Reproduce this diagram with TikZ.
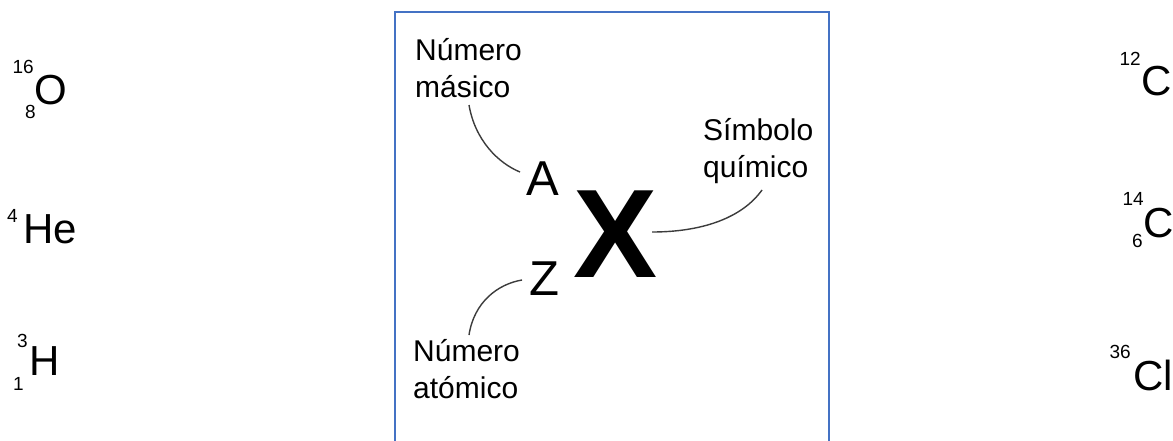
\documentclass[tikz,border=0pt]{standalone}
\usepackage{fontspec}
\setmainfont{Liberation Sans}
\definecolor{boxblue}{RGB}{68,114,196}
\definecolor{leader}{RGB}{60,60,60}
\begin{document}
\begin{tikzpicture}[x=1pt,y=-1pt,
  lbl/.style={inner sep=0pt,anchor=base west,align=left,font=\fontsize{30}{37}\selectfont},
  elem/.style={inner sep=0pt,anchor=base west,font=\fontsize{42}{42}\selectfont},
  nucl/.style={inner sep=0pt,anchor=base east,font=\fontsize{19}{19}\selectfont},
  az/.style={inner sep=0pt,anchor=base west,font=\fontsize{49}{49}\selectfont},
  lead/.style={draw=leader,line width=1.4pt}]
\useasboundingbox[fill=white] (0,0) rectangle (1173,440);

% frame
\draw[boxblue,line width=2pt] (394.7,442) -- (394.7,12) -- (829,12) -- (829,442);

% left isotopes
\node[elem] (O) at (34,104) {O};
\node[nucl] (O16) at (34,73) {16};
\node[nucl] (O8) at (36,118) {8};

\node[elem] (He) at (23,243) {He};
\node[nucl] (He4) at (18,222) {4};

\node[elem] (H) at (29,375) {H};
\node[nucl] (H3) at (28,347) {3};
\node[nucl] (H1) at (24,390) {1};

% right isotopes
\node[elem] (C12) at (1141,95) {C};
\node[nucl] (C12a) at (1141,65) {12};

\node[elem] (C14) at (1143,237) {C};
\node[nucl] (C14a) at (1144,205) {14};
\node[nucl] (C14z) at (1143,247) {6};

\node[elem] (Cl) at (1133,390) {Cl};
\node[nucl] (Cl36) at (1131,358) {36};

% central notation
\node[az] (A) at (526,195) {A};
\node[az] (Z) at (529,295) {Z};
\node[inner sep=0pt,anchor=base west,font=\fontsize{126}{126}\selectfont\bfseries] (X) at (573,277) {X};

\node[lbl] (mas) at (415,97) {Número\\másico};
\node[lbl] (sim) at (703,177) {Símbolo\\químico};
\node[lbl] (ato) at (413,398) {Número\\atómico};

% leaders
\coordinate (m1) at (469,105);
\coordinate (m2) at (520,172);
\coordinate (s1) at (762,190);
\coordinate (s2) at (652,232);
\coordinate (a1) at (469,335);
\coordinate (a2) at (522,280);
\draw[lead] (m1) .. controls (475,140) and (498,163) .. (m2);
\draw[lead] (s1) .. controls (742,218) and (702,232) .. (s2);
\draw[lead] (a1) .. controls (474,302) and (498,284) .. (a2);
\end{tikzpicture}
\end{document}
